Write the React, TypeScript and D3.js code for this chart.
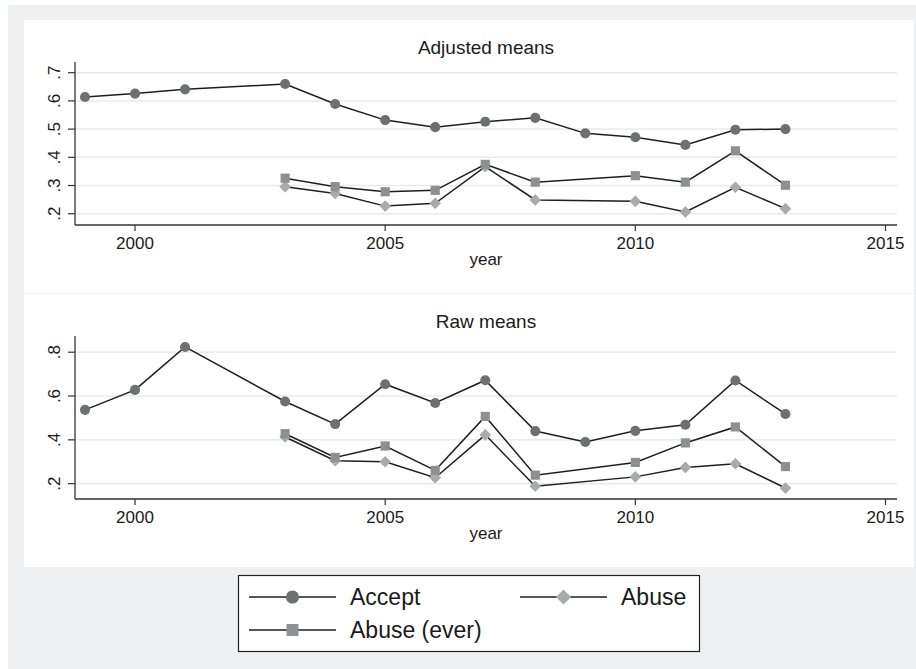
import React from "react";
import * as d3 from "d3";

// years observed
const acceptYears = [1999, 2000, 2001, 2003, 2004, 2005, 2006, 2007, 2008, 2009, 2010, 2011, 2012, 2013];
const abuseYears = [2003, 2004, 2005, 2006, 2007, 2008, 2010, 2011, 2012, 2013];

// Adjusted means
const adjAccept = [0.614, 0.626, 0.641, 0.66, 0.589, 0.532, 0.507, 0.526, 0.54, 0.485, 0.471, 0.444, 0.498, 0.5];
const adjAbuse = [0.296, 0.272, 0.227, 0.237, 0.367, 0.249, 0.244, 0.206, 0.294, 0.218];
const adjAbuseEver = [0.326, 0.296, 0.278, 0.283, 0.375, 0.312, 0.335, 0.312, 0.423, 0.301];

// Raw means
const rawAccept = [0.537, 0.628, 0.824, 0.575, 0.472, 0.654, 0.568, 0.672, 0.44, 0.39, 0.441, 0.469, 0.671, 0.518];
const rawAbuse = [0.413, 0.305, 0.3, 0.227, 0.423, 0.188, 0.231, 0.274, 0.291, 0.18];
const rawAbuseEver = [0.428, 0.32, 0.372, 0.261, 0.507, 0.239, 0.297, 0.386, 0.459, 0.278];

const xTicks = [2000, 2005, 2010, 2015];
const adjTicks = [0.2, 0.3, 0.4, 0.5, 0.6, 0.7];
const rawTicks = [0.2, 0.4, 0.6, 0.8];

const font = "'Liberation Sans', Arial, Helvetica, sans-serif";
const lineColor = "#1e1e1e";
const colors = { accept: "#6e6f73", abuse: "#a9aaae", ever: "#8e8f93" };

const initial = {
  plotLeft: 75,
  plotRight: 897,
  plotTop: 62,
  plotBottom: 225,
  panelShift: 274,
};

const x = d3.scaleLinear().domain([1998.8, 2015.23]).range([initial.plotLeft, initial.plotRight]);

const fmt = (d: number) => d3.format(".1f")(d).replace(/^0/, "");

type Kind = "accept" | "abuse" | "ever";

const Marker = ({ kind, cx, cy, big }: { kind: Kind; cx: number; cy: number; big?: boolean }) => {
  const k = big ? 1.3 : 1;
  if (kind === "accept") {
    return <path d={d3.symbol(d3.symbolCircle, 80 * k * k)()!} transform={`translate(${cx},${cy})`} fill={colors.accept} />;
  }
  if (kind === "ever") {
    return <path d={d3.symbol(d3.symbolSquare, 84 * k * k)()!} transform={`translate(${cx},${cy})`} fill={colors.ever} />;
  }
  return (
    <path d={d3.symbol(d3.symbolSquare, 68 * k * k)()!} transform={`translate(${cx},${cy}) rotate(45)`} fill={colors.abuse} />
  );
};

const Panel = (props: {
  offset: number;
  title: string;
  domain: [number, number];
  ticks: number[];
  accept: number[];
  abuse: number[];
  ever: number[];
}) => {
  const { offset } = props;
  const y = d3
    .scaleLinear()
    .domain(props.domain)
    .range([initial.plotBottom + offset, initial.plotTop + offset]);
  const line = d3
    .line<[number, number]>()
    .x((d) => x(d[0]))
    .y((d) => y(d[1]));

  const series: { kind: Kind; years: number[]; vals: number[] }[] = [
    { kind: "accept", years: acceptYears, vals: props.accept },
    { kind: "abuse", years: abuseYears, vals: props.abuse },
    { kind: "ever", years: abuseYears, vals: props.ever },
  ];
  const midX = (initial.plotLeft + initial.plotRight) / 2;

  return (
    <g>
      <text x={midX} y={54 + offset} textAnchor="middle" fontSize={19} fill="#1a1a1a">
        {props.title}
      </text>
      {/* grid */}
      {props.ticks.map((t) => (
        <line key={"g" + t} x1={initial.plotLeft} x2={initial.plotRight} y1={y(t)} y2={y(t)} stroke="#e9eaeb" strokeWidth={1.5} />
      ))}
      {/* axes */}
      <line x1={initial.plotLeft} x2={initial.plotLeft} y1={initial.plotTop + offset} y2={initial.plotBottom + offset} stroke="#333" strokeWidth={1.3} />
      <line x1={initial.plotLeft} x2={initial.plotRight} y1={initial.plotBottom + offset} y2={initial.plotBottom + offset} stroke="#333" strokeWidth={1.3} />
      {props.ticks.map((t) => (
        <g key={"yt" + t}>
          <line x1={initial.plotLeft - 7} x2={initial.plotLeft} y1={y(t)} y2={y(t)} stroke="#333" strokeWidth={1.2} />
          <text transform={`translate(60,${y(t)}) rotate(-90)`} textAnchor="middle" fontSize={17} fill="#1a1a1a">
            {fmt(t)}
          </text>
        </g>
      ))}
      {xTicks.map((t) => (
        <g key={"xt" + t}>
          <line x1={x(t)} x2={x(t)} y1={initial.plotBottom + offset} y2={initial.plotBottom + offset + 6} stroke="#333" strokeWidth={1.2} />
          <text x={x(t)} y={249 + offset} textAnchor="middle" fontSize={17} fill="#1a1a1a">
            {t}
          </text>
        </g>
      ))}
      <text x={midX} y={265 + offset} textAnchor="middle" fontSize={17} fill="#1a1a1a">
        year
      </text>
      {/* series */}
      {series.map((s) => {
        const pts = s.years.map((yr, i) => [yr, s.vals[i]] as [number, number]);
        return (
          <g key={s.kind}>
            <path d={line(pts)!} fill="none" stroke={lineColor} strokeWidth={1.5} />
            {pts.map((p) => (
              <Marker key={p[0]} kind={s.kind} cx={x(p[0])} cy={y(p[1])} />
            ))}
          </g>
        );
      })}
    </g>
  );
};

const legendItems: { kind: Kind; label: string; col: number; row: number }[] = [
  { kind: "accept", label: "Accept", col: 0, row: 0 },
  { kind: "abuse", label: "Abuse", col: 1, row: 0 },
  { kind: "ever", label: "Abuse (ever)", col: 0, row: 1 },
];

const App = () => {
  return (
    <div style={{ position: "absolute", left: 0, top: 0 }}>
      <svg width={916} height={669} style={{ display: "block", fontFamily: font }}>
        <rect x={0} y={0} width={916} height={669} fill="#fff" />
        <rect x={8} y={5} width={908} height={664} fill="#eff0f2" />
        <rect x={24} y={20} width={890} height={273} fill="#fff" />
        <rect x={24} y={294} width={890} height={273} fill="#fff" />
        <Panel offset={0} title="Adjusted means" domain={[0.16, 0.738]} ticks={adjTicks} accept={adjAccept} abuse={adjAbuse} ever={adjAbuseEver} />
        <Panel
          offset={initial.panelShift}
          title="Raw means"
          domain={[0.13, 0.874]}
          ticks={rawTicks}
          accept={rawAccept}
          abuse={rawAbuse}
          ever={rawAbuseEver}
        />
        {/* legend */}
        <rect x={238.5} y={575.5} width={461} height={76} fill="#fff" stroke="#222" strokeWidth={1.2} />
        {legendItems.map((it) => {
          const x0 = it.col === 0 ? 249 : 520;
          const cy = it.row === 0 ? 597 : 630;
          return (
            <g key={it.label}>
              <line x1={x0} x2={x0 + 87} y1={cy} y2={cy} stroke={lineColor} strokeWidth={1.5} />
              <Marker kind={it.kind} cx={x0 + 43.5} cy={cy} big />
              <text x={x0 + 101} y={cy + 8} fontSize={23} fill="#1a1a1a">
                {it.label}
              </text>
            </g>
          );
        })}
      </svg>
    </div>
  );
};

export default App;
